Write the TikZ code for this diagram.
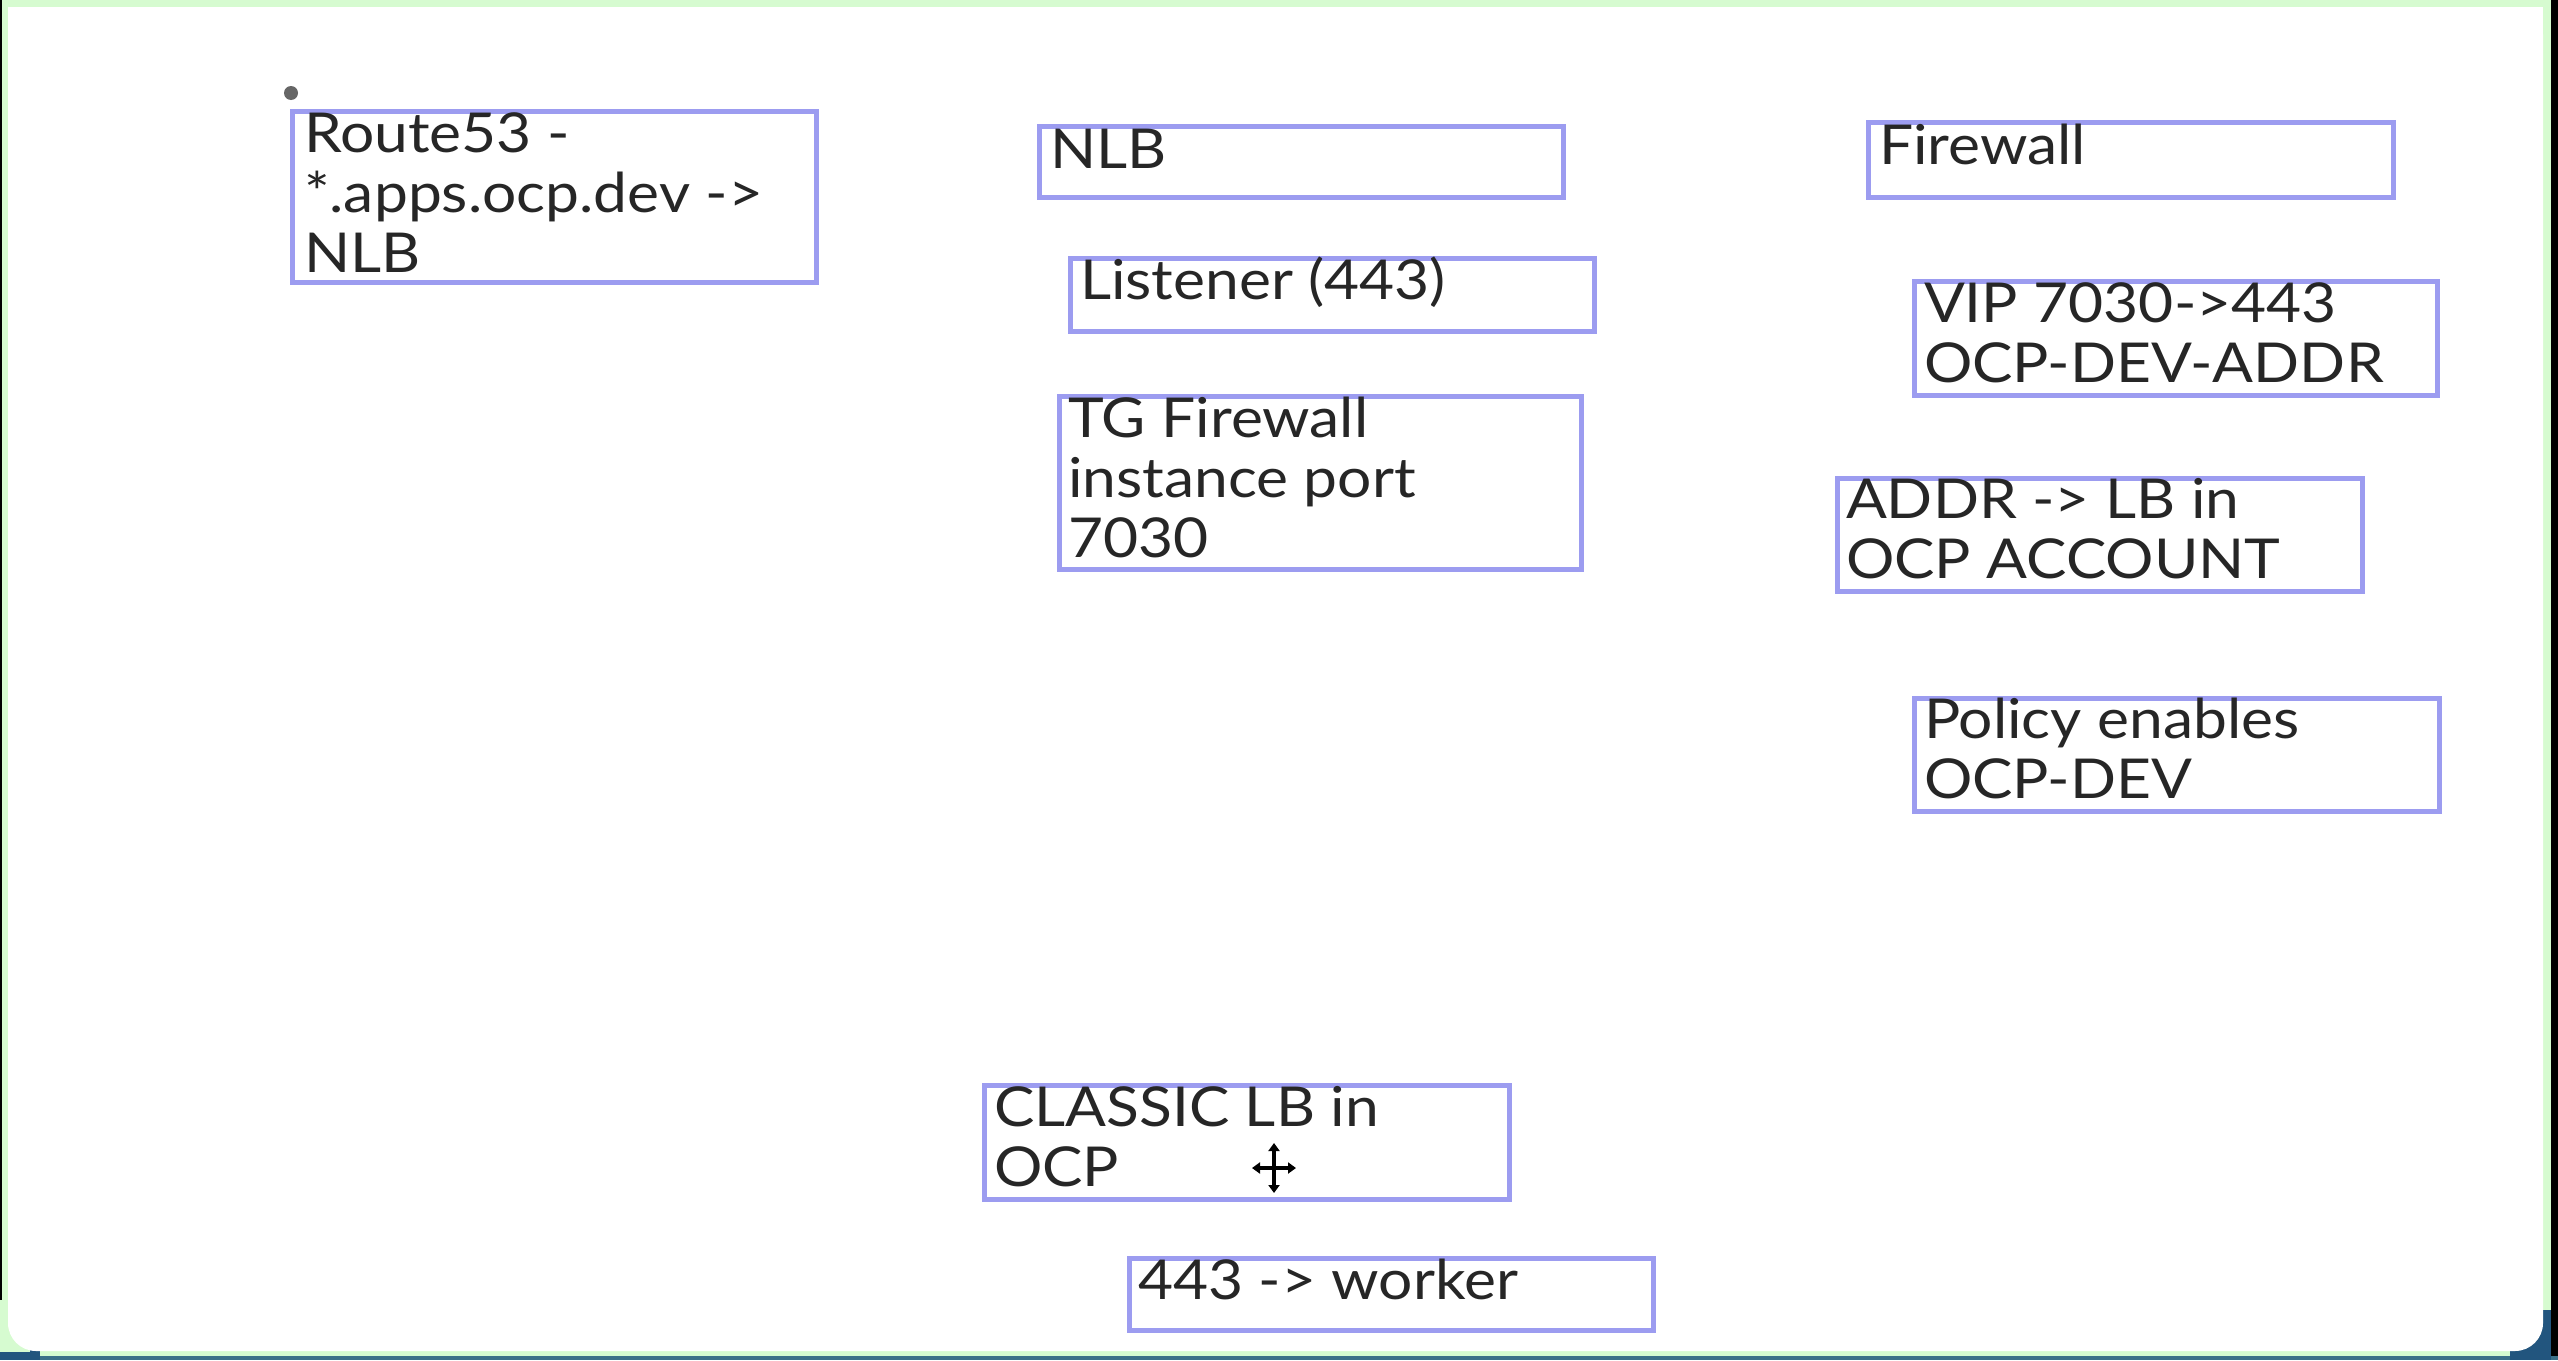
\documentclass[tikz,border=0pt]{standalone}
\usepackage{fontspec}
\setmainfont[FakeStretch=1.1]{Lato}
\usetikzlibrary{arrows.meta}
\definecolor{boxblue}{HTML}{9C9CF0}
\definecolor{txtgray}{HTML}{262626}
\definecolor{framegreen}{HTML}{D6FBD0}
\definecolor{edgeteal}{HTML}{3C7088}
\definecolor{cornerblue}{HTML}{22557E}
\newcommand\mybox[5]{\node[bx, minimum width={(#4-#2)*0.5pt}, minimum height={(#5-#3)*0.5pt}] (#1) at ({(#2+#4)/2},{(#3+#5)/2}) {};}
\newcommand\mytext[4]{\node[txt] (#1) at (#2,#3) {\parbox[t]{300pt}{\raggedright #4}};}
\begin{document}
\begin{tikzpicture}[x=0.5pt,y=-0.5pt,
  bx/.style={draw=boxblue, line width=2.5pt, rectangle, inner sep=0pt, outer sep=0pt},
  txt/.style={anchor=base west, inner sep=0pt, outer sep=0pt, text=txtgray,
    font=\fontsize{27.5}{30}\selectfont}]
\useasboundingbox (0,0) rectangle (2558,1360);
% frame
\fill[framegreen] (0,0) rectangle (2558,1360);
\fill[black] (2551,0) rectangle (2558,1360);
\fill[black] (0,0) rectangle (1.5,1360);
\fill[edgeteal] (0,1356) rectangle (2558,1360);
\fill[cornerblue] (0,1310) rectangle (40,1360);
\fill[cornerblue] (2510,1310) rectangle (2551,1360);
\fill[framegreen] (0,1300) -- (30,1300) -- (30,1352) -- (0,1352) -- cycle;
\fill[white, rounded corners=14pt] (8,7) -- (2543,7) -- (2543,1351) -- (8,1351) -- cycle;
\fill[white] (8,7) rectangle (2543,60);
% boxes
\mybox{route}{292}{111}{816}{282}
\mybox{nlb}{1039}{126}{1563}{197}
\mybox{listener}{1070}{258}{1594}{331}
\mybox{tg}{1059}{396}{1581}{569}
\mybox{firewall}{1868}{122}{2393}{197}
\mybox{vip}{1914}{281}{2437}{395}
\mybox{addr}{1837}{478}{2362}{591}
\mybox{policy}{1914}{698}{2439}{811}
\mybox{classic}{984}{1085}{1509}{1199}
\mybox{worker}{1129}{1258}{1653}{1330}
% texts
\mytext{routeT}{304}{152}{Route53 -\\{}*.apps.ocp.dev ->\\NLB}
\mytext{nlbT}{1050}{168}{NLB}
\mytext{listenerT}{1080}{299}{Listener (443)}
\mytext{tgT}{1068}{437}{TG Firewall\\instance port\\7030}
\mytext{firewallT}{1879}{164}{Firewall}
\mytext{vipT}{1924}{322}{VIP 7030->443\\OCP-DEV-ADDR}
\mytext{addrT}{1846}{518}{ADDR -> LB in\\OCP ACCOUNT}
\mytext{policyT}{1924}{738}{Policy enables\\OCP-DEV}
\mytext{classicT}{994}{1126}{CLASSIC LB in\\OCP}
\mytext{workerT}{1138}{1299}{443 -> worker}
% dot
\fill[gray!80!black] (291,93) circle[radius=7];
% move cursor
\begin{scope}[shift={(1274,1168)}]
  \draw[white, line width=4pt, line cap=round] (-21,0) -- (21,0) (0,-24) -- (0,24);
  \draw[black, line width=1.6pt, -{Triangle[length=4pt,width=5.5pt]}] (0,0) -- (22,0);
  \draw[black, line width=1.6pt, -{Triangle[length=4pt,width=5.5pt]}] (0,0) -- (-22,0);
  \draw[black, line width=1.6pt, -{Triangle[length=4pt,width=5.5pt]}] (0,0) -- (0,25);
  \draw[black, line width=1.6pt, -{Triangle[length=4pt,width=5.5pt]}] (0,0) -- (0,-25);
\end{scope}
\end{tikzpicture}
\end{document}
